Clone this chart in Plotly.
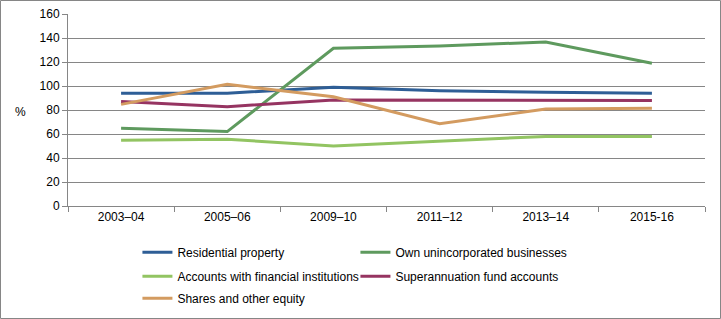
import plotly.graph_objects as go

years = ['2003–04', '2005–06', '2009–10', '2011–12', '2013–14', '2015-16']

residential = [94, 94, 99, 96, 94.7, 94]
own_business = [64.7, 62, 131.5, 133.3, 136.7, 119]
accounts = [54.7, 55.6, 50, 54, 58, 58]
superannuation = [87, 82.8, 88.3, 88, 88, 88]
shares = [84.7, 101.4, 91, 68.6, 80.8, 81.4]

# name, values, colour, legend row
series = [
    ('Residential property', residential, '#2E5E96', 'legend'),
    ('Own unincorporated businesses', own_business, '#5E9A5E', 'legend'),
    ('Accounts with financial institutions', accounts, '#92C462', 'legend2'),
    ('Superannuation fund accounts', superannuation, '#963461', 'legend2'),
    ('Shares and other equity', shares, '#D39B60', 'legend3'),
]

fig = go.Figure()
for name, vals, col, leg in series:
    fig.add_trace(go.Scatter(x=years, y=vals, name=name, mode='lines', legend=leg,
                             line=dict(color=col, width=3)))

font = dict(family='Liberation Sans, Arial', size=12, color='#000000')

def legend_row(y):
    return dict(orientation='h', x=0.109, xanchor='left', y=y, yanchor='top',
                entrywidth=173, entrywidthmode='pixels', itemwidth=30,
                font=font, bgcolor='rgba(0,0,0,0)')

fig.update_layout(
    width=721, height=319,
    margin=dict(l=68, r=16, t=14, b=113, autoexpand=False),
    paper_bgcolor='white', plot_bgcolor='white',
    font=font,
    showlegend=True,
    legend=legend_row(-0.165),
    legend2=legend_row(-0.29),
    legend3=legend_row(-0.405),
)
fig.update_xaxes(showgrid=False, showline=True, linecolor='#868686', linewidth=1,
                 ticks='outside', tickson='boundaries', ticklen=5, tickcolor='#868686',
                 range=[-0.5, 5.5])
fig.update_yaxes(range=[0, 160], dtick=20, showgrid=True, gridcolor='#868686', gridwidth=1,
                 showline=True, linecolor='#868686', linewidth=1, ticks='outside',
                 ticklen=5, tickcolor='#868686', zeroline=False)

fig.add_annotation(text='%', xref='paper', yref='paper', x=-0.063, y=0.49,
                   showarrow=False, font=font, xanchor='right')
# chart border
fig.add_shape(type='rect', xref='paper', yref='paper',
              x0=(0.5 - 68) / 637, x1=(720.5 - 68) / 637,
              y0=(206 - 318.5) / 192, y1=(206 - 0.5) / 192,
              line=dict(color='#868686', width=1))

fig.write_html('out.html', config={'displayModeBar': False},
               post_script="document.body.style.margin='0';")
